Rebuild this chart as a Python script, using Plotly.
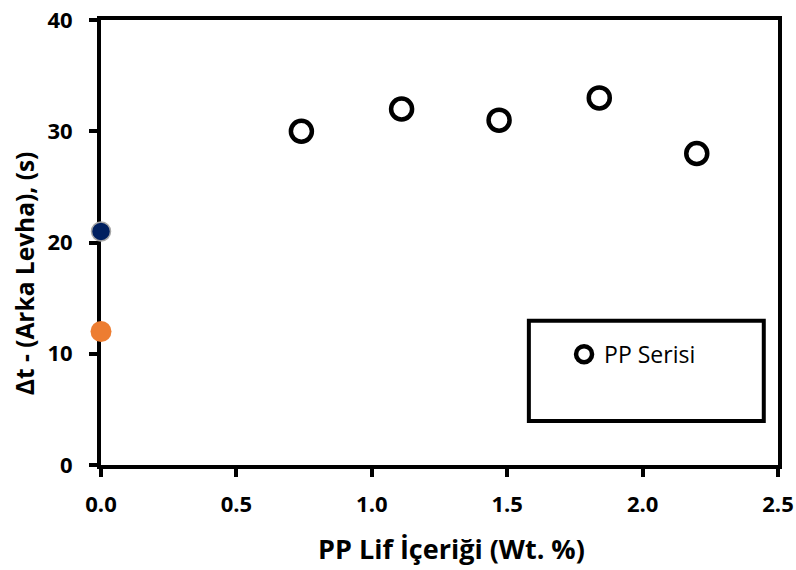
import plotly.graph_objects as go

pp_x = [0.74, 1.11, 1.47, 1.84, 2.20]
pp_y = [30, 32, 31, 33, 28]
ref1_x = [0.0]
ref1_y = [21]
ref2_x = [0.0]
ref2_y = [12]
x_ticks = [0.0, 0.5, 1.0, 1.5, 2.0, 2.5]
y_ticks = [0, 10, 20, 30, 40]
x_title = "PP Lif İçeriği (Wt. %)"
y_title = "Δt - (Arka Levha), (s)"

FONT = "'Open Sans', sans-serif"

fig = go.Figure()
fig.add_trace(go.Scatter(
    x=pp_x, y=pp_y, mode="markers", name="PP Serisi",
    marker=dict(symbol="circle-open", size=21, color="black", line=dict(width=4.5, color="black")),
    cliponaxis=False,
))
fig.add_trace(go.Scatter(
    x=ref1_x, y=ref1_y, mode="markers", showlegend=False,
    marker=dict(symbol="circle", size=19, color="#002060", line=dict(width=1.5, color="#a6a6a6")),
    cliponaxis=False,
))
fig.add_trace(go.Scatter(
    x=ref2_x, y=ref2_y, mode="markers", showlegend=False,
    marker=dict(symbol="circle", size=21, color="#ED7D31", line=dict(width=0)),
    cliponaxis=False,
))

fig.add_shape(type="rect", xref="paper", yref="paper",
              x0=0.632, x1=0.979, y0=0.099, y1=0.324,
              line=dict(color="black", width=4), fillcolor="white", layer="below")

fig.add_annotation(text=x_title, xref="paper", yref="paper", x=0.518, y=-0.187,
                   showarrow=False, xanchor="center", yanchor="middle",
                   font=dict(size=27, family=FONT, weight="bold", color="black"))
fig.add_annotation(text=y_title, xref="paper", yref="paper", x=-0.1137, y=0.431,
                   showarrow=False, xanchor="center", yanchor="middle", textangle=-90,
                   font=dict(size=24.5, family=FONT, weight="bold", color="black"))

fig.update_layout(
    width=796, height=570,
    margin=dict(l=101, r=18, t=20, b=105),
    paper_bgcolor="white", plot_bgcolor="white",
    font=dict(family=FONT, color="black"),
    showlegend=True,
    legend=dict(x=0.684, y=0.249, xanchor="left", yanchor="middle",
                bgcolor="rgba(0,0,0,0)", borderwidth=0,
                font=dict(size=23, family=FONT),
                itemwidth=30, itemsizing="trace"),
)
fig.update_xaxes(
    range=[0, 2.5], tickvals=x_ticks, tickformat=".1f",
    showline=True, linewidth=4, linecolor="black", mirror=True,
    ticks="outside", ticklen=8, tickwidth=4, tickcolor="black",
    showgrid=False, zeroline=False, layer="below traces",
    ticklabelstandoff=9, automargin=False,
    tickfont=dict(size=22, family=FONT, weight="bold"),
)
fig.update_yaxes(
    range=[0, 40], tickvals=y_ticks,
    showline=True, linewidth=4, linecolor="black", mirror=True,
    ticks="outside", ticklen=8, tickwidth=4, tickcolor="black",
    showgrid=False, zeroline=False, layer="below traces",
    ticklabelstandoff=12, automargin=False,
    tickfont=dict(size=22, family=FONT, weight="bold"),
)

fig.write_html("out.html")
